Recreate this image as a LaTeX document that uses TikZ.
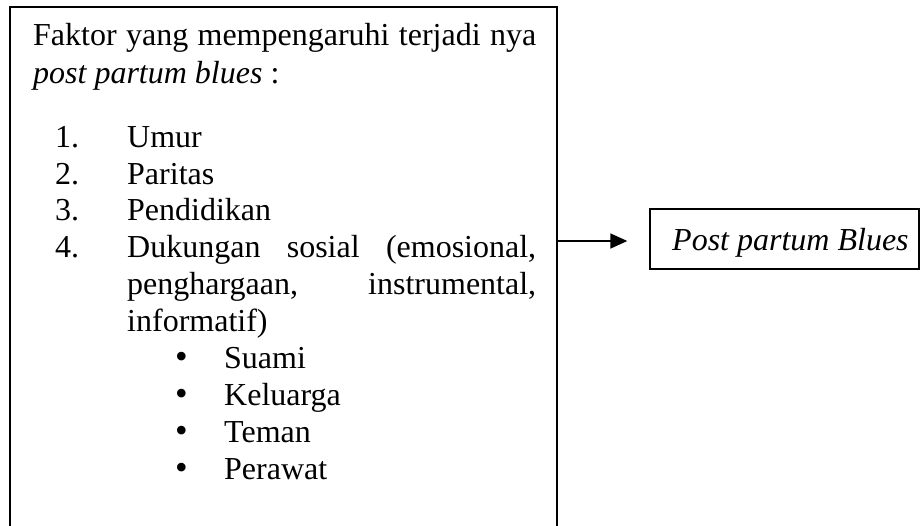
\documentclass[tikz,border=0pt]{standalone}
\usepackage{fontspec}
\setmainfont{Liberation Serif}
\usetikzlibrary{arrows.meta}
\begin{document}
\begin{tikzpicture}[x=1pt,y=-1pt,
  frame/.style={draw=black,line width=1.4pt,inner sep=0pt},
  txt/.style={inner sep=0pt,anchor=base west,font=\fontsize{32}{37}\selectfont},
  bul/.style={inner sep=0pt,anchor=base west,font=\fontsize{36}{37}\selectfont},
  conn/.style={line width=1.7pt,-{Triangle[length=17pt,width=15pt]}}]
\useasboundingbox (0,0) rectangle (920,525);
\clip (0,0) rectangle (920,525);
% left box (bottom edge lies below the picture)
\node[frame,minimum width=547pt,minimum height=560pt] (factors) at (283.5,287) {};
% right box
\node[frame,minimum width=269pt,minimum height=60pt] (ppb) at (784.5,239) {};
\node[txt] (ppbtext) at (672,250) {\textit{Post partum Blues}};
% arrow
\draw[conn] ([yshift=-2pt]factors.east |- ppb.west) -- ([xshift=-22pt,yshift=-2pt]ppb.west);
% text
\node[txt] (t1) at (33,45) {\makebox[503pt][s]{Faktor yang mempengaruhi terjadi nya}};
\node[txt] (t2) at (33,83) {\textit{post partum blues} :};
\node[txt] (n1) at (55,147) {1.};
\node[txt] (i1) at (127,147) {Umur};
\node[txt] (n2) at (55,184) {2.};
\node[txt] (i2) at (127,184) {Paritas};
\node[txt] (n3) at (55,220) {3.};
\node[txt] (i3) at (127,220) {Pendidikan};
\node[txt] (n4) at (55,257) {4.};
\node[txt] (i4a) at (127,257) {\makebox[409pt][s]{Dukungan sosial (emosional,}};
\node[txt] (i4b) at (127,294) {\makebox[409pt][s]{penghargaan, instrumental,}};
\node[txt] (i4c) at (127,331) {informatif)};
\node[bul] (b1) at (175,368) {•};
\node[txt] (s1) at (224,368) {Suami};
\node[bul] (b2) at (175,405) {•};
\node[txt] (s2) at (224,405) {Keluarga};
\node[bul] (b3) at (175,442) {•};
\node[txt] (s3) at (224,442) {Teman};
\node[bul] (b4) at (175,479) {•};
\node[txt] (s4) at (224,479) {Perawat};
\end{tikzpicture}
\end{document}
